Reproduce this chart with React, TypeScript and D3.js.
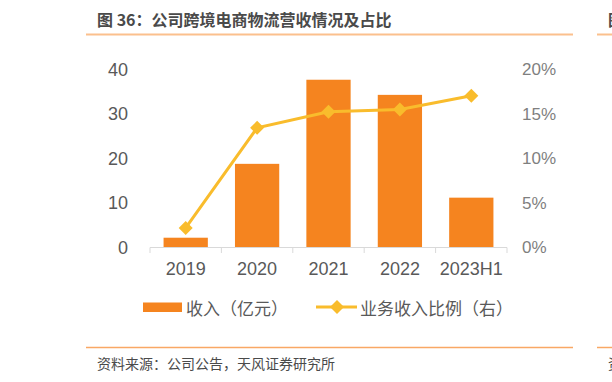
import React from "react";
import * as d3 from "d3";

const categories = ["2019", "2020", "2021", "2022", "2023H1"];
const revenue = [2.2, 18.8, 37.7, 34.3, 11.2];
const ratio = [2.2, 13.45, 15.25, 15.5, 17.05];
const leftTicks = [0, 10, 20, 30, 40];
const rightTicks = [0, 5, 10, 15, 20];

const W = 612;
const H = 382;
const CJK = "'Noto Sans CJK SC', 'Noto Sans', sans-serif";
const LAT = "'Liberation Sans', Arial, sans-serif";
const NARROW = "'Liberation Sans Narrow', 'Liberation Sans', Arial, sans-serif";

export default function App() {
  const x = d3.scaleBand<string>().domain(categories).range([150, 507]).paddingInner(0.38).paddingOuter(0.19);
  const y = d3.scaleLinear().domain([0, 40]).range([247.5, 69.5]);
  const y2 = d3.scaleLinear().domain([0, 20]).range([247.5, 69.5]);
  const step = x.step();
  const cx = (c: string) => (x(c) as number) + x.bandwidth() / 2;
  const line = d3
    .line<number>()
    .x((_, i) => cx(categories[i]))
    .y((d) => y2(d));
  const diamond = (r: number) => `M0,${-r}L${r},0L0,${r}L${-r},0Z`;
  const boundaries = d3.range(categories.length + 1).map((i) => 150 + i * ((507 - 150) / categories.length));

  return (
    <svg width={W} height={H} style={{ position: "absolute", left: 0, top: 0, background: "#fff" }}>
      {/* header */}
      <text x={97} y={19} dominantBaseline="central" fontFamily={CJK} fontSize={16} fontWeight="bold" fill="#4a4a4a">
        图 36：公司跨境电商物流营收情况及占比
      </text>
      <line x1={86} x2={573} y1={34.5} y2={34.5} stroke="#FBC08D" strokeWidth={2} />
      <line x1={597} x2={612} y1={34.5} y2={34.5} stroke="#FBC08D" strokeWidth={2} />
      <text x={608} y={19} dominantBaseline="central" fontFamily={CJK} fontSize={16} fontWeight="bold" fill="#4a4a4a">
        图
      </text>

      {/* left axis labels */}
      {leftTicks.map((t) => (
        <text key={"l" + t} x={128} y={y(t)} textAnchor="end" dominantBaseline="central" fontFamily={LAT} fontSize={18} fill="#595959">
          {t}
        </text>
      ))}
      {/* right axis labels */}
      {rightTicks.map((t) => (
        <text key={"r" + t} x={522} y={y2(t)} textAnchor="start" dominantBaseline="central" fontFamily={NARROW} fontSize={17} fill="#7f7f7f">
          {t + "%"}
        </text>
      ))}

      {/* bars */}
      {categories.map((c, i) => (
        <rect key={c} x={x(c)} y={y(revenue[i])} width={x.bandwidth()} height={y(0) - y(revenue[i])} fill="#F5841F" />
      ))}

      {/* x axis */}
      <line x1={150} x2={507} y1={247.5} y2={247.5} stroke="#d9d9d9" strokeWidth={1} />
      {boundaries.map((b, i) => (
        <line key={"t" + i} x1={b} x2={b} y1={247.5} y2={253} stroke="#d9d9d9" strokeWidth={1} />
      ))}
      {categories.map((c) => (
        <text key={"x" + c} x={cx(c)} y={269} textAnchor="middle" dominantBaseline="central" fontFamily={LAT} fontSize={18} fill="#595959">
          {c}
        </text>
      ))}

      {/* line */}
      <path d={line(ratio) || ""} fill="none" stroke="#F9BC2C" strokeWidth={3} />
      {ratio.map((v, i) => (
        <path key={"m" + i} d={diamond(7)} transform={`translate(${cx(categories[i])},${y2(v)})`} fill="#F9BC2C" />
      ))}

      {/* legend */}
      <rect x={143} y={302.5} width={39} height={9.5} fill="#F5841F" />
      <text x={186} y={307} dominantBaseline="central" fontFamily={CJK} fontSize={17} fill="#595959">
        收入（亿元）
      </text>
      <line x1={316} x2={357} y1={307} y2={307} stroke="#F9BC2C" strokeWidth={3} />
      <path d={diamond(7)} transform="translate(337,307)" fill="#F9BC2C" />
      <text x={360} y={307} dominantBaseline="central" fontFamily={CJK} fontSize={17} fill="#595959">
        业务收入比例（右）
      </text>

      {/* footer */}
      <line x1={86} x2={573} y1={347.5} y2={347.5} stroke="#F9A865" strokeWidth={1.5} />
      <line x1={597} x2={612} y1={347.5} y2={347.5} stroke="#F9A865" strokeWidth={1.5} />
      <text x={97} y={363} dominantBaseline="central" fontFamily={CJK} fontSize={14} fill="#4a4a4a">
        资料来源：公司公告，天风证券研究所
      </text>
      <text x={608} y={363} dominantBaseline="central" fontFamily={CJK} fontSize={14} fill="#4a4a4a">
        资
      </text>
    </svg>
  );
}
